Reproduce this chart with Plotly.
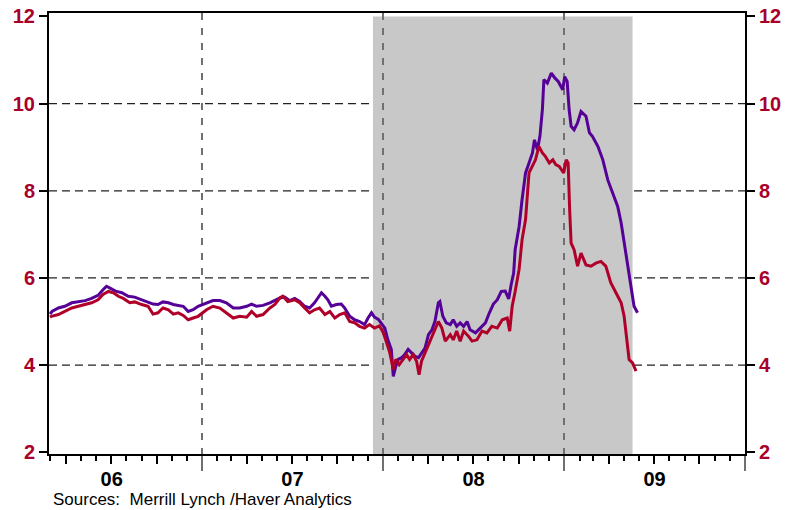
import plotly.graph_objects as go

# ---------------- data ----------------
purple_dates = [
    "2006-02-28", "2006-03-04", "2006-03-17", "2006-03-30", "2006-04-13", "2006-04-26", "2006-05-10",
    "2006-05-23", "2006-06-05", "2006-06-15", "2006-06-22", "2006-07-02", "2006-07-12", "2006-07-23",
    "2006-08-05", "2006-08-18", "2006-09-01", "2006-09-14", "2006-09-24", "2006-10-04", "2006-10-14",
    "2006-10-25", "2006-11-04", "2006-11-14", "2006-11-24", "2006-12-04", "2006-12-14", "2006-12-24",
    "2007-01-10", "2007-01-23", "2007-02-06", "2007-02-19", "2007-03-05", "2007-03-18", "2007-04-01",
    "2007-04-11", "2007-04-21", "2007-05-04", "2007-05-18", "2007-05-28", "2007-06-07", "2007-06-17",
    "2007-06-27", "2007-07-07", "2007-07-17", "2007-07-27", "2007-08-06", "2007-08-16", "2007-08-23",
    "2007-08-30", "2007-09-06", "2007-09-12", "2007-09-19", "2007-09-29", "2007-10-09", "2007-10-16",
    "2007-10-26", "2007-11-05", "2007-11-15", "2007-11-25", "2007-12-02", "2007-12-09", "2007-12-15",
    "2007-12-23",
    "2008-01-05", "2008-01-11", "2008-01-18", "2008-01-22", "2008-01-27", "2008-02-01", "2008-02-08",
    "2008-02-14", "2008-02-21", "2008-02-28", "2008-03-06", "2008-03-13", "2008-03-19", "2008-03-26",
    "2008-04-02", "2008-04-09", "2008-04-15", "2008-04-22", "2008-04-25", "2008-05-01", "2008-05-08",
    "2008-05-16", "2008-05-22", "2008-05-29", "2008-06-05", "2008-06-12", "2008-06-19", "2008-06-25",
    "2008-07-06", "2008-07-16", "2008-07-26", "2008-08-03", "2008-08-11", "2008-08-19", "2008-08-27",
    "2008-09-04", "2008-09-11", "2008-09-16", "2008-09-21", "2008-09-24", "2008-10-02", "2008-10-08",
    "2008-10-15", "2008-10-22", "2008-10-29", "2008-11-02", "2008-11-08", "2008-11-13", "2008-11-18",
    "2008-11-21", "2008-11-28", "2008-12-06", "2008-12-13", "2008-12-20", "2008-12-29",
    "2009-01-02", "2009-01-07", "2009-01-11", "2009-01-15", "2009-01-21", "2009-01-28", "2009-02-04",
    "2009-02-14", "2009-02-21", "2009-02-27", "2009-03-10", "2009-03-20", "2009-03-30", "2009-04-09",
    "2009-04-19", "2009-04-26", "2009-05-02", "2009-05-09", "2009-05-16", "2009-05-22", "2009-05-29",
]
purple_vals = [
    5.17, 5.23, 5.31, 5.35, 5.43, 5.46, 5.48,
    5.53, 5.60, 5.73, 5.81, 5.75, 5.69, 5.66,
    5.58, 5.56, 5.50, 5.46, 5.40, 5.39, 5.45,
    5.43, 5.39, 5.37, 5.35, 5.23, 5.27, 5.35,
    5.43, 5.48, 5.48, 5.43, 5.31, 5.31, 5.35,
    5.40, 5.35, 5.37, 5.43, 5.48, 5.54, 5.56,
    5.48, 5.53, 5.46, 5.35, 5.31, 5.43, 5.54,
    5.66, 5.58, 5.50, 5.35, 5.39, 5.40, 5.31,
    5.12, 5.04, 5.00, 4.93, 5.08, 5.20, 5.10,
    5.05,
    4.85, 4.58, 4.36, 3.74, 3.97, 4.13, 4.17,
    4.24, 4.36, 4.28, 4.20, 4.17, 4.28, 4.39,
    4.70, 4.81, 5.00, 5.43, 5.46, 5.12, 4.97,
    4.93, 5.04, 4.89, 4.97, 4.89, 5.00, 4.81,
    4.74, 4.85, 4.97, 5.20, 5.40, 5.50, 5.69,
    5.70, 5.52, 5.85, 6.11, 6.65, 7.18, 7.80,
    8.41, 8.64, 8.87, 9.17, 8.94, 9.25, 9.86,
    10.55, 10.47, 10.70, 10.59, 10.51, 10.32,
    10.62, 10.51, 9.86, 9.48, 9.40, 9.56, 9.82,
    9.71, 9.33, 9.25, 9.02, 8.71, 8.25, 7.95,
    7.64, 7.26, 6.80, 6.27, 5.73, 5.35, 5.20,
]

red_dates = [
    "2006-02-28", "2006-03-03", "2006-03-17", "2006-03-30", "2006-04-13", "2006-04-26", "2006-05-10",
    "2006-05-23", "2006-06-05", "2006-06-15", "2006-06-26", "2006-07-06", "2006-07-16", "2006-07-26",
    "2006-08-08", "2006-08-18", "2006-09-01", "2006-09-14", "2006-09-24", "2006-10-04", "2006-10-14",
    "2006-10-25", "2006-11-04", "2006-11-14", "2006-11-24", "2006-12-04", "2006-12-14", "2006-12-24",
    "2007-01-10", "2007-01-23", "2007-02-06", "2007-02-19", "2007-03-05", "2007-03-18", "2007-04-01",
    "2007-04-11", "2007-04-21", "2007-05-04", "2007-05-18", "2007-05-28", "2007-06-07", "2007-06-13",
    "2007-06-23", "2007-07-07", "2007-07-17", "2007-07-27", "2007-08-06", "2007-08-16", "2007-08-26",
    "2007-09-06", "2007-09-16", "2007-09-26", "2007-10-06", "2007-10-16", "2007-10-26", "2007-11-05",
    "2007-11-15", "2007-11-25", "2007-12-05", "2007-12-15", "2007-12-25",
    "2008-01-02", "2008-01-08", "2008-01-15", "2008-01-22", "2008-01-27", "2008-02-03", "2008-02-11",
    "2008-02-18", "2008-02-24", "2008-03-02", "2008-03-09", "2008-03-14", "2008-03-19", "2008-03-26",
    "2008-04-05", "2008-04-15", "2008-04-22", "2008-04-29", "2008-05-06", "2008-05-16", "2008-05-22",
    "2008-05-29", "2008-06-05", "2008-06-12", "2008-06-22", "2008-06-29", "2008-07-09", "2008-07-19",
    "2008-07-29", "2008-08-08", "2008-08-19", "2008-08-29", "2008-09-08", "2008-09-13", "2008-09-18",
    "2008-09-24", "2008-10-02", "2008-10-08", "2008-10-15", "2008-10-22", "2008-10-29", "2008-11-04",
    "2008-11-11", "2008-11-18", "2008-11-24", "2008-12-02", "2008-12-09", "2008-12-15", "2008-12-22",
    "2008-12-31",
    "2009-01-05", "2009-01-09", "2009-01-12", "2009-01-15", "2009-01-21", "2009-01-28", "2009-02-04",
    "2009-02-14", "2009-02-24", "2009-03-06", "2009-03-16", "2009-03-26", "2009-04-05", "2009-04-15",
    "2009-04-26", "2009-05-02", "2009-05-09", "2009-05-12", "2009-05-19", "2009-05-26",
]
red_vals = [
    5.10, 5.12, 5.16, 5.23, 5.31, 5.35, 5.39,
    5.43, 5.50, 5.62, 5.69, 5.66, 5.58, 5.53,
    5.43, 5.45, 5.39, 5.35, 5.17, 5.20, 5.31,
    5.27, 5.17, 5.20, 5.14, 5.04, 5.08, 5.12,
    5.27, 5.35, 5.31, 5.20, 5.08, 5.12, 5.10,
    5.23, 5.12, 5.16, 5.31, 5.39, 5.54, 5.58,
    5.46, 5.50, 5.43, 5.31, 5.20, 5.27, 5.31,
    5.16, 5.23, 5.08, 5.16, 5.20, 5.00, 4.97,
    4.89, 4.85, 4.93, 4.85, 4.90,
    4.74, 4.55, 4.28, 3.90, 4.13, 4.01, 4.13,
    4.24, 4.13, 4.24, 4.09, 3.78, 4.09, 4.28,
    4.55, 4.78, 5.00, 4.85, 4.55, 4.70, 4.58,
    4.78, 4.55, 4.78, 4.66, 4.55, 4.58, 4.78,
    4.74, 4.89, 4.85, 5.04, 5.08, 4.78, 5.35,
    5.69, 6.20, 6.88, 7.34, 8.41, 8.56, 8.71,
    9.02, 8.87, 8.79, 8.64, 8.71, 8.60, 8.56,
    8.41,
    8.71, 8.64, 7.57, 6.80, 6.65, 6.27, 6.57,
    6.30, 6.27, 6.34, 6.38, 6.27, 5.89, 5.66,
    5.43, 5.12, 4.51, 4.13, 4.05, 3.86,
]

y_tick_vals = [2, 4, 6, 8, 10, 12]
grid_levels = [4, 6, 8, 10]
quarter_ticks = [f"{y}-{m}-01" for y in (2006, 2007, 2008, 2009) for m in ("04", "07", "10")]
recession_start = "2007-12-12"
recession_end = "2009-05-19"
x_range = ["2006-02-26", "2010-01-01"]
y_range = [1.96, 12.08]
source_text = "Sources:\u00a0 Merrill Lynch /Haver Analytics"

PURPLE = "#550096"
RED = "#B0002A"
LABEL_RED = "#A8002A"

fig = go.Figure()
fig.add_trace(go.Scatter(x=purple_dates, y=purple_vals, mode="lines",
                         line=dict(color=PURPLE, width=3), xaxis="x", yaxis="y",
                         showlegend=False, name="Purple"))
fig.add_trace(go.Scatter(x=red_dates, y=red_vals, mode="lines",
                         line=dict(color=RED, width=3), xaxis="x2", yaxis="y2",
                         showlegend=False, name="Red"))

ytickfont = dict(family="Arial, Liberation Sans", size=20, color=LABEL_RED, weight="bold")

shapes = [dict(type="rect", xref="x", yref="y", x0=recession_start, x1=recession_end,
               y0=y_range[0], y1=12.0, fillcolor="#C8C8C8", line=dict(width=0), layer="below")]
for g in grid_levels:
    shapes.append(dict(type="line", xref="paper", yref="y", x0=0, x1=1, y0=g, y1=g,
                       line=dict(color="#222222", width=1.2, dash="8px,5px"), layer="below"))

fig.update_layout(
    width=788, height=510,
    margin=dict(l=49, r=43, t=13, b=56, autoexpand=False),
    paper_bgcolor="white", plot_bgcolor="white",
    showlegend=False,
    shapes=shapes,
    xaxis=dict(
        type="date", range=x_range, showline=True, linecolor="black", linewidth=2, mirror=True,
        ticks="outside", tickmode="linear", tick0="2006-01-01", dtick="M12",
        ticklen=15, tickwidth=2, tickcolor="#707070",
        ticklabelmode="period", tickformat="%y", ticklabelstandoff=-9,
        tickfont=dict(family="Arial, Liberation Sans", size=20, color="black", weight="bold"),
        showgrid=True, gridcolor="#707070", gridwidth=1.6, griddash="7px,8px",
        zeroline=False, automargin=False,
        minor=dict(ticks="outside", dtick="M1", tick0="2006-01-01", ticklen=5,
                   tickcolor="black", tickwidth=1.5, showgrid=False),
    ),
    xaxis2=dict(
        type="date", range=x_range, overlaying="x", anchor="y", showline=False,
        ticks="outside", tickmode="array", tickvals=quarter_ticks, ticklen=9, tickwidth=1.5,
        tickcolor="black", showticklabels=False, showgrid=False, zeroline=False, automargin=False,
    ),
    yaxis=dict(
        range=y_range, tickmode="array", tickvals=y_tick_vals, showline=True, linecolor="black",
        linewidth=2, mirror=True, ticks="outside", ticklen=8, tickwidth=1.5, tickcolor="black",
        tickfont=ytickfont, showgrid=False, zeroline=False, automargin=False,
        ticklabeloverflow="allow",
    ),
    yaxis2=dict(
        range=y_range, overlaying="y", side="right", anchor="x", tickmode="array",
        tickvals=y_tick_vals, showline=False, ticks="outside", ticklen=9, tickwidth=1.5,
        tickcolor="black", tickfont=ytickfont, showgrid=False, zeroline=False, automargin=False,
        ticklabeloverflow="allow",
    ),
    annotations=[dict(text=source_text, xref="paper", yref="paper", x=0.004, y=-0.127,
                      xanchor="left", yanchor="bottom", showarrow=False, borderpad=0,
                      font=dict(family="Arial, Liberation Sans", size=17, color="black"))],
)

# remove the default 8px page margin so the figure fills the window exactly
fig.write_html("out.html", config={"displayModeBar": False},
               post_script="document.body.style.margin='0px';")
